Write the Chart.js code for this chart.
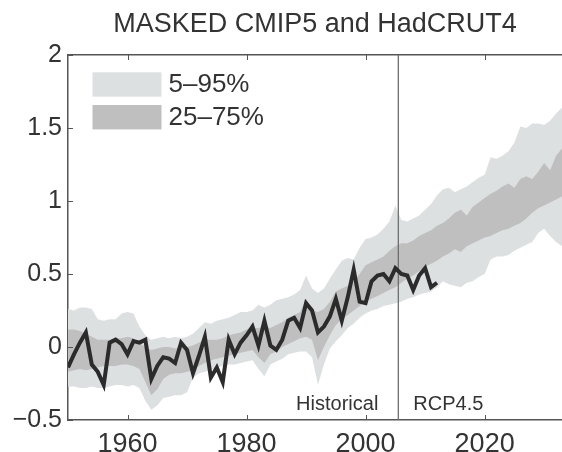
<!DOCTYPE html>
<html>
<head>
<meta charset="utf-8">
<script src="https://cdn.jsdelivr.net/npm/chart.js@4.4.1/dist/chart.umd.min.js"></script>
<style>
html,body{margin:0;padding:0;background:#fff;overflow:hidden}
#wrap{width:562px;height:452px;position:relative}
</style>
</head>
<body>
<div id="wrap"><canvas id="c"></canvas></div>
<script>
const titleText = 'MASKED CMIP5 and HadCRUT4';
const legendLabels = ['5–95%', '25–75%'];
const periodLabels = ['Historical', 'RCP4.5'];
const periodSplit = 2005.5;
const xTickValues = [1960, 1980, 2000, 2020];
const yTickValues = [-0.5, 0, 0.5, 1, 1.5, 2];

const bandYears = [1950,1951,1952,1953,1954,1955,1956,1957,1958,1959,
1960,1961,1962,1963,1964,1965,1966,1967,1968,1969,
1970,1971,1972,1973,1974,1975,1976,1977,1978,1979,
1980,1981,1982,1983,1984,1985,1986,1987,1988,1989,
1990,1991,1992,1993,1994,1995,1996,1997,1998,1999,
2000,2001,2002,2003,2004,2005,2006,2007,2008,2009,
2010,2011,2012,2013,2014,2015,2016,2017,2018,2019,
2020,2021,2022,2023,2024,2025,2026,2027,2028,2029,
2030,2031,2032,2033];

const p95 = [0.26,0.25,0.27,0.27,0.26,0.19,0.18,0.19,0.19,0.23,
0.24,0.23,0.14,0.08,0.05,0.06,0.07,0.06,0.07,0.06,
0.07,0.09,0.13,0.17,0.16,0.18,0.19,0.20,0.22,0.24,
0.24,0.25,0.29,0.27,0.29,0.32,0.33,0.34,0.36,0.39,
0.49,0.40,0.37,0.40,0.47,0.53,0.59,0.61,0.60,0.68,
0.74,0.75,0.77,0.81,0.86,0.97,0.87,0.86,0.88,0.90,
0.94,0.98,1.04,1.08,1.09,1.06,1.08,1.10,1.13,1.16,
1.18,1.30,1.29,1.31,1.34,1.40,1.51,1.50,1.53,1.53,
1.52,1.55,1.60,1.64];

const p5 = [-0.27,-0.27,-0.28,-0.28,-0.27,-0.28,-0.28,-0.27,-0.26,-0.26,
-0.27,-0.26,-0.28,-0.37,-0.43,-0.40,-0.35,-0.34,-0.33,-0.33,
-0.31,-0.21,-0.18,-0.17,-0.16,-0.14,-0.13,-0.12,-0.12,-0.11,
-0.10,-0.09,-0.15,-0.20,-0.12,-0.10,-0.08,-0.05,-0.04,-0.03,
-0.03,-0.07,-0.26,-0.12,-0.01,0.04,0.08,0.13,0.16,0.20,
0.23,0.25,0.26,0.28,0.29,0.30,0.31,0.33,0.34,0.36,
0.37,0.38,0.41,0.45,0.43,0.42,0.41,0.44,0.45,0.48,
0.50,0.60,0.62,0.62,0.63,0.66,0.68,0.70,0.72,0.78,
0.81,0.76,0.72,0.69];

const p75 = [0.12,0.12,0.11,0.09,0.07,0.05,0.05,0.05,0.06,0.06,
0.07,0.06,0.03,0.00,-0.02,-0.01,0.00,0.00,-0.01,0.00,
0.00,0.01,0.03,0.05,0.05,0.05,0.06,0.08,0.09,0.10,
0.12,0.13,0.13,0.14,0.13,0.15,0.17,0.20,0.22,0.24,
0.33,0.25,0.24,0.26,0.31,0.38,0.40,0.42,0.45,0.50,
0.56,0.58,0.60,0.62,0.66,0.69,0.71,0.71,0.73,0.76,
0.78,0.80,0.83,0.85,0.88,0.92,0.94,0.90,0.96,0.99,
1.02,1.05,1.07,1.10,1.12,1.09,1.15,1.17,1.15,1.20,
1.26,1.21,1.31,1.36];

const p25 = [-0.17,-0.16,-0.15,-0.16,-0.15,-0.14,-0.13,-0.13,-0.13,-0.12,
-0.12,-0.13,-0.15,-0.24,-0.33,-0.29,-0.22,-0.19,-0.18,-0.18,
-0.17,-0.16,-0.13,-0.11,-0.09,-0.08,-0.07,-0.06,-0.05,-0.04,
-0.03,-0.02,-0.07,-0.11,-0.05,-0.03,0.00,0.02,0.04,0.06,
0.07,0.05,-0.09,0.00,0.08,0.15,0.19,0.22,0.25,0.28,
0.31,0.33,0.35,0.37,0.39,0.41,0.44,0.47,0.49,0.52,
0.55,0.57,0.59,0.62,0.64,0.67,0.65,0.69,0.71,0.73,
0.75,0.76,0.78,0.80,0.81,0.83,0.85,0.88,0.92,0.95,
0.97,0.99,1.01,1.03];

const obsYears = [1950,1951,1952,1953,1954,1955,1956,1957,1958,1959,
1960,1961,1962,1963,1964,1965,1966,1967,1968,1969,
1970,1971,1972,1973,1974,1975,1976,1977,1978,1979,
1980,1981,1982,1983,1984,1985,1986,1987,1988,1989,
1990,1991,1992,1993,1994,1995,1996,1997,1998,1999,
2000,2001,2002,2003,2004,2005,2006,2007,2008,2009,
2010,2011,2012];

const hadcrut4 = [-0.14,-0.05,0.03,0.10,-0.12,-0.17,-0.26,0.03,0.05,0.02,
-0.05,0.04,0.03,0.05,-0.22,-0.13,-0.07,-0.08,-0.11,0.03,
-0.02,-0.18,-0.06,0.07,-0.21,-0.14,-0.24,0.05,-0.05,0.03,
0.08,0.14,0.01,0.18,0.01,-0.02,0.05,0.18,0.20,0.13,
0.30,0.25,0.10,0.14,0.21,0.33,0.18,0.34,0.53,0.31,
0.30,0.45,0.49,0.50,0.45,0.54,0.50,0.49,0.39,0.49,
0.54,0.41,0.44];

const FONT = "'Liberation Sans', Arial, Helvetica, sans-serif";
const LIGHT = '#dde0e1';
const DARK = '#bfbfbf';
const TEXT = '#333333';
const AXIS = '#555555';

const pts = (xs, ys) => xs.map((x, i) => ({x: x, y: ys[i]}));
const bandStyle = {borderWidth: 0, borderColor: 'rgba(0,0,0,0)', pointRadius: 0, tension: 0};

const extras = {
  id: 'extras',
  afterDraw(chart) {
    const {ctx, chartArea: a, scales: {x, y}} = chart;
    ctx.save();
    // inward ticks
    ctx.strokeStyle = AXIS; ctx.lineWidth = 1;
    ctx.beginPath();
    xTickValues.forEach(v => {
      const px = Math.round(x.getPixelForValue(v)) + 0.5;
      ctx.moveTo(px, a.bottom); ctx.lineTo(px, a.bottom - 5);
      ctx.moveTo(px, a.top); ctx.lineTo(px, a.top + 5);
    });
    yTickValues.forEach(v => {
      const py = Math.round(y.getPixelForValue(v)) + 0.5;
      ctx.moveTo(a.left, py); ctx.lineTo(a.left + 5, py);
    });
    ctx.stroke();
    // legend
    const lx = a.left + 24.5, ly = a.top + 17.3;
    const colors = [LIGHT, DARK];
    legendLabels.forEach((t, i) => {
      const top = ly + i * 32.7;
      ctx.fillStyle = colors[i];
      ctx.fillRect(lx, top, 69, 24.4);
      ctx.fillStyle = TEXT;
      ctx.font = '26px ' + FONT;
      ctx.textAlign = 'left';
      ctx.textBaseline = 'middle';
      ctx.fillText(t, lx + 76, top + 13);
    });
    // period labels
    const sx = x.getPixelForValue(periodSplit);
    ctx.font = '20px ' + FONT;
    ctx.fillStyle = TEXT;
    ctx.textBaseline = 'alphabetic';
    ctx.textAlign = 'right';
    ctx.fillText(periodLabels[0], sx - 20, a.bottom - 10);
    ctx.textAlign = 'left';
    ctx.fillText(periodLabels[1], sx + 15, a.bottom - 10);
    ctx.restore();
  }
};

new Chart(document.getElementById('c'), {
  type: 'line',
  data: {
    datasets: [
      Object.assign({label: legendLabels[0], data: pts(bandYears, p95), fill: 1, backgroundColor: LIGHT, order: 4}, bandStyle),
      Object.assign({label: '5%', data: pts(bandYears, p5), fill: false, order: 4}, bandStyle),
      Object.assign({label: legendLabels[1], data: pts(bandYears, p75), fill: 3, backgroundColor: DARK, order: 3}, bandStyle),
      Object.assign({label: '25%', data: pts(bandYears, p25), fill: false, order: 3}, bandStyle),
      {label: 'HadCRUT4', data: pts(obsYears, hadcrut4), borderColor: '#2b2b2b', borderWidth: 4,
       pointRadius: 0, fill: false, tension: 0, borderJoinStyle: 'miter', order: 1},
      {label: 'split', data: [{x: periodSplit, y: -0.5}, {x: periodSplit, y: 2}], borderColor: '#6e6e6e',
       borderWidth: 1.3, pointRadius: 0, fill: false, order: 2}
    ]
  },
  options: {
    responsive: true,
    maintainAspectRatio: false,
    animation: false,
    events: [],
    layout: {padding: 0},
    plugins: {
      legend: {display: false},
      tooltip: {enabled: false},
      title: {
        display: true, text: titleText, fullSize: false,
        color: TEXT, font: {family: FONT, size: 27, weight: 'normal'},
        padding: {top: 8, bottom: 14.6}
      }
    },
    scales: {
      x: {
        type: 'linear', position: 'bottom', min: 1950, max: 2033,
        afterBuildTicks: s => { s.ticks = xTickValues.map(v => ({value: v})); },
        afterFit: s => { s.height = 32; },
        grid: {display: false, drawTicks: false},
        border: {display: true, color: AXIS, width: 1.5},
        ticks: {color: TEXT, font: {family: FONT, size: 27}, padding: 8, maxRotation: 0,
                callback: v => String(v)}
      },
      x2: {
        type: 'linear', position: 'top', min: 1950, max: 2033,
        afterFit: s => { s.height = 0; },
        grid: {display: false, drawTicks: false},
        border: {display: true, color: AXIS, width: 1.5},
        ticks: {display: false}
      },
      y: {
        type: 'linear', min: -0.5, max: 2,
        afterBuildTicks: s => { s.ticks = yTickValues.map(v => ({value: v})); },
        afterFit: s => { s.width = 68; },
        grid: {display: false, drawTicks: false},
        border: {display: true, color: AXIS, width: 1.5},
        ticks: {color: TEXT, font: {family: FONT, size: 25}, padding: 6,
                callback: v => (v < 0 ? '\u2212' + Math.abs(v) : String(v))}
      }
    }
  },
  plugins: [extras]
});
</script>
</body>
</html>
